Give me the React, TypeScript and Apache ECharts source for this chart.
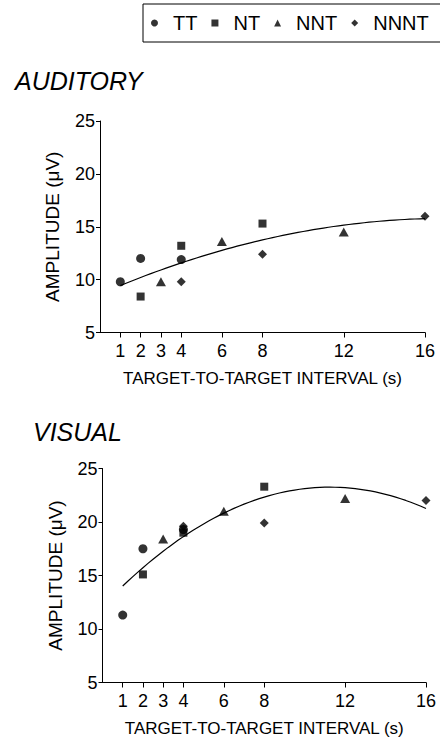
import React, { useEffect, useRef } from "react";
import * as echarts from "echarts";

// Groups and marker shapes
const groups = ["TT", "NT", "NNT", "NNNT"];
const symbols = ["circle", "rect", "triangle", "diamond"];
const symbolSizes: any[] = [9, 8, [10, 9], 9];

// Target-to-target intervals (s) for each group
const ttX = [1, 2, 4];
const ntX = [2, 4, 8];
const nntX = [3, 6, 12];
const nnntX = [4, 8, 16];

// AUDITORY amplitudes (µV)
const audTT = [9.8, 12.0, 11.9];
const audNT = [8.4, 13.2, 15.3];
const audNNT = [9.8, 13.6, 14.5];
const audNNNT = [9.8, 12.4, 16.0];

// VISUAL amplitudes (µV)
const visTT = [11.3, 17.5, 19.3];
const visNT = [15.1, 19.0, 23.3];
const visNNT = [18.4, 21.0, 22.2];
const visNNNT = [19.6, 19.9, 22.0];

// Axis ticks
const xTicks = [1, 2, 3, 4, 6, 8, 12, 16];

const FONT = "'Liberation Sans', Arial, Helvetica, sans-serif";

function quadFit(xs: number[], ys: number[]) {
  const s = [0, 0, 0, 0, 0];
  let sy = 0, sxy = 0, sx2y = 0;
  for (let i = 0; i < xs.length; i++) {
    const x = xs[i], y = ys[i];
    for (let k = 0; k < 5; k++) s[k] += Math.pow(x, k);
    sy += y; sxy += x * y; sx2y += x * x * y;
  }
  const M = [
    [s[0], s[1], s[2]],
    [s[1], s[2], s[3]],
    [s[2], s[3], s[4]],
  ];
  const B = [sy, sxy, sx2y];
  const det = (m: number[][]) =>
    m[0][0] * (m[1][1] * m[2][2] - m[1][2] * m[2][1]) -
    m[0][1] * (m[1][0] * m[2][2] - m[1][2] * m[2][0]) +
    m[0][2] * (m[1][0] * m[2][1] - m[1][1] * m[2][0]);
  const D = det(M);
  const coef = [0, 1, 2].map((c) => {
    const m = M.map((row, r) => row.map((v, j) => (j === c ? B[r] : v)));
    return det(m) / D;
  });
  return coef;
}

function fitCurve(xsList: number[][], ysList: number[][]) {
  const xs = ([] as number[]).concat(...xsList);
  const ys = ([] as number[]).concat(...ysList);
  const [a, b, c] = quadFit(xs, ys);
  const lo = Math.min(...xs), hi = Math.max(...xs);
  const pts: number[][] = [];
  const n = 60;
  for (let i = 0; i <= n; i++) {
    const x = lo + ((hi - lo) * i) / n;
    pts.push([x, a + b * x + c * x * x]);
  }
  return pts;
}

const groupX = [ttX, ntX, nntX, nnntX];
const audY = [audTT, audNT, audNNT, audNNNT];
const visY = [visTT, visNT, visNNT, visNNNT];

function makeAxes(gridIndex: number) {
  const x = {
    type: "value",
    gridIndex,
    min: 0,
    max: 16,
    name: "TARGET-TO-TARGET INTERVAL (s)",
    nameLocation: "middle",
    nameGap: 37,
    nameTextStyle: { fontSize: 17, color: "#000", fontFamily: FONT },
    axisLine: { show: true, onZero: false, lineStyle: { color: "#000", width: 1 } },
    axisTick: { show: true, customValues: xTicks, length: 5, lineStyle: { color: "#000", width: 1 } },
    axisLabel: { customValues: xTicks, fontSize: 18, color: "#000", margin: 9, fontFamily: FONT },
    splitLine: { show: false },
  };
  const y = {
    type: "value",
    gridIndex,
    min: 5,
    max: 25,
    interval: 5,
    name: "AMPLITUDE (μV)",
    nameLocation: "middle",
    nameGap: 38,
    nameTextStyle: { fontSize: 19, color: "#000", fontFamily: FONT },
    axisLine: { show: true, onZero: false, lineStyle: { color: "#000", width: 1 } },
    axisTick: { show: true, length: 4, lineStyle: { color: "#000", width: 1 } },
    axisLabel: { fontSize: 18, color: "#000", margin: 5, fontFamily: FONT },
    splitLine: { show: false },
  };
  return { x, y };
}

export default function App() {
  const ref = useRef<HTMLDivElement>(null);
  useEffect(() => {
    document.body.style.margin = "0";
    if (!ref.current) return;
    const chart = echarts.init(ref.current, null, { renderer: "svg" });
    const a = makeAxes(0);
    const v = makeAxes(1);
    const series: any[] = [];
    groups.forEach((g, i) => {
      series.push({
        name: g,
        type: "scatter",
        xAxisIndex: 0,
        yAxisIndex: 0,
        symbol: symbols[i],
        symbolSize: symbolSizes[i],
        itemStyle: { color: "#000" },
        data: groupX[i].map((x, j) => [x, audY[i][j]]),
        z: 3,
      });
      series.push({
        name: g,
        type: "scatter",
        xAxisIndex: 1,
        yAxisIndex: 1,
        symbol: symbols[i],
        symbolSize: symbolSizes[i],
        itemStyle: { color: "#000" },
        data: groupX[i].map((x, j) => [x, visY[i][j]]),
        z: 3,
      });
    });
    series.push({
      name: "fitA",
      type: "line",
      xAxisIndex: 0,
      yAxisIndex: 0,
      showSymbol: false,
      symbol: "none",
      lineStyle: { color: "#000", width: 1.2 },
      data: fitCurve(groupX, audY),
      z: 2,
    });
    series.push({
      name: "fitV",
      type: "line",
      xAxisIndex: 1,
      yAxisIndex: 1,
      showSymbol: false,
      symbol: "none",
      lineStyle: { color: "#000", width: 1.2 },
      data: fitCurve(groupX, visY),
      z: 2,
    });

    chart.setOption({
      animation: false,
      backgroundColor: "#fff",
      textStyle: { fontFamily: FONT, color: "#000" },
      title: [
        {
          text: "AUDITORY",
          left: 15,
          top: 68,
          padding: 0,
          textStyle: { fontSize: 25, fontStyle: "italic", fontWeight: "normal", color: "#000", fontFamily: FONT },
        },
        {
          text: "VISUAL",
          left: 33,
          top: 419,
          padding: 0,
          textStyle: { fontSize: 25, fontStyle: "italic", fontWeight: "normal", color: "#000", fontFamily: FONT },
        },
      ],
      legend: {
        left: 143,
        top: 4,
        width: 320,
        orient: "horizontal",
        data: groups.map((g, i) => ({ name: g, icon: symbols[i] })),
        itemWidth: 7,
        itemHeight: 7,
        itemGap: 14,
        padding: [9, 12, 9, 8],
        borderColor: "#000",
        borderWidth: 1,
        selectedMode: false,
        textStyle: { fontSize: 20, color: "#000", fontFamily: FONT, padding: [0, 0, 0, 10] },
      },
      grid: [
        { left: 100, right: 15, top: 121, bottom: 408.5, containLabel: false },
        { left: 102.5, right: 14, top: 468.5, bottom: 58.5, containLabel: false },
      ],
      xAxis: [a.x, v.x],
      yAxis: [a.y, v.y],
      series,
    });
    return () => chart.dispose();
  }, []);
  return <div ref={ref} style={{ width: 440, height: 741, position: "absolute", left: 0, top: 0 }} />;
}
